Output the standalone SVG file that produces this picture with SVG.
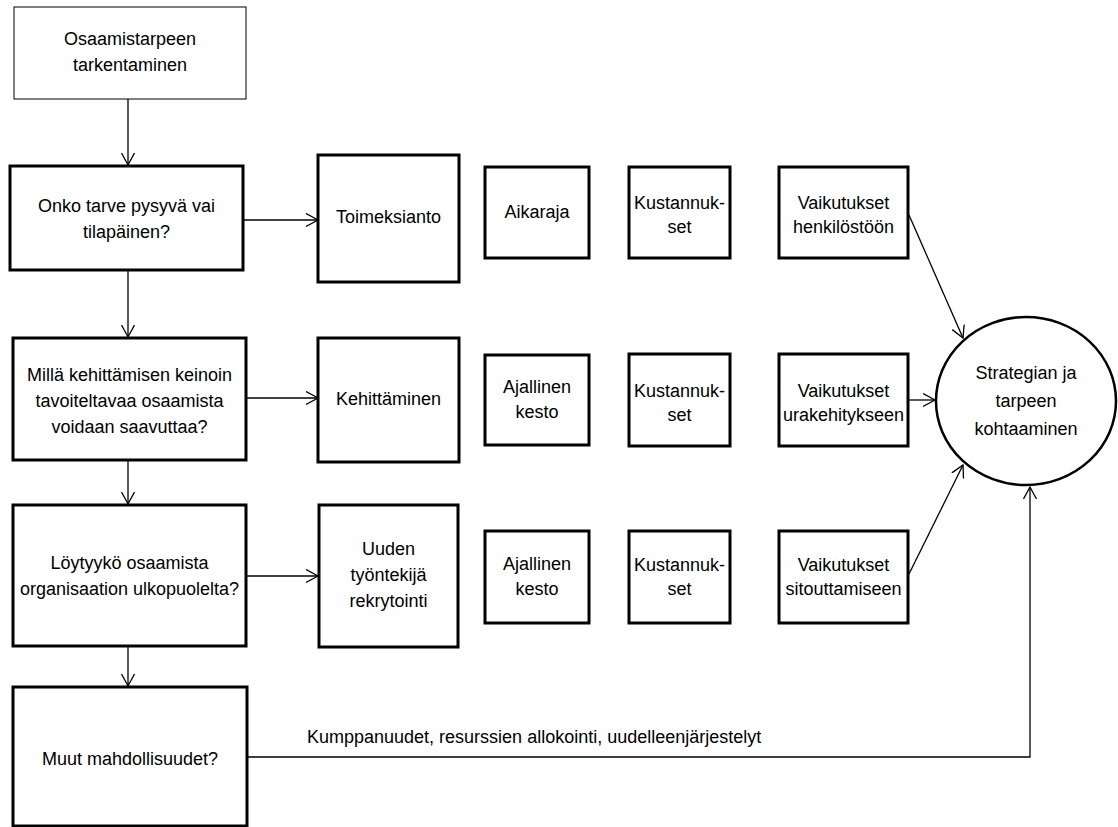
<svg xmlns="http://www.w3.org/2000/svg" width="1118" height="827" viewBox="0 0 1118 827">
  <style>
    .box { fill: #ffffff; stroke: #000000; stroke-width: 3; }
    .thin { fill: #ffffff; stroke: #000000; stroke-width: 1; }
    .oval { fill: #ffffff; stroke: #000000; stroke-width: 2.5; }
    .conn { fill: none; stroke: #000000; stroke-width: 1.3; }
    text { font-family: "Liberation Sans", Arial, sans-serif; font-size: 18px; fill: #000000; text-anchor: middle; }
    .label { text-anchor: start; }
  </style>
  <defs>
    <marker id="arrow" markerUnits="userSpaceOnUse" markerWidth="16" markerHeight="16" refX="12" refY="7" orient="auto">
      <path d="M0,0.5 L12,7 L0,13.5" fill="none" stroke="#000000" stroke-width="1.3"/>
    </marker>
  </defs>

  <!-- connectors -->
  <g id="connectors">
    <line class="conn" x1="128" y1="99" x2="128" y2="165" marker-end="url(#arrow)"/>
    <line class="conn" x1="128" y1="270" x2="128" y2="337" marker-end="url(#arrow)"/>
    <line class="conn" x1="128" y1="460" x2="128" y2="504" marker-end="url(#arrow)"/>
    <line class="conn" x1="128" y1="646" x2="128" y2="686" marker-end="url(#arrow)"/>
    <line class="conn" x1="243" y1="220" x2="318" y2="220" marker-end="url(#arrow)"/>
    <line class="conn" x1="246" y1="398" x2="318" y2="398" marker-end="url(#arrow)"/>
    <line class="conn" x1="246" y1="576" x2="318" y2="576" marker-end="url(#arrow)"/>
    <line class="conn" x1="909" y1="215" x2="963" y2="338" marker-end="url(#arrow)"/>
    <line class="conn" x1="909" y1="400" x2="935" y2="400" marker-end="url(#arrow)"/>
    <line class="conn" x1="909" y1="574" x2="963" y2="465" marker-end="url(#arrow)"/>
    <path class="conn" d="M247,757 H1030 V487" marker-end="url(#arrow)"/>
    <text class="label" x="307" y="743">Kumppanuudet, resurssien allokointi, uudelleenjärjestelyt</text>
  </g>

  <!-- left column: decision steps -->
  <g id="n-tarkentaminen">
    <rect class="thin" x="14" y="7" width="232" height="92"/>
    <text x="130" y="45">Osaamistarpeen</text>
    <text x="130" y="71">tarkentaminen</text>
  </g>
  <g id="n-pysyva">
    <rect class="box" x="10" y="166" width="233" height="104"/>
    <text x="126.5" y="212">Onko tarve pysyvä vai</text>
    <text x="126.5" y="238">tilapäinen?</text>
  </g>
  <g id="n-kehittaminen-keinot">
    <rect class="box" x="13" y="338" width="233" height="122"/>
    <text x="129.5" y="381">Millä kehittämisen keinoin</text>
    <text x="129.5" y="407">tavoiteltavaa osaamista</text>
    <text x="129.5" y="433">voidaan saavuttaa?</text>
  </g>
  <g id="n-ulkopuolelta">
    <rect class="box" x="13" y="505" width="233" height="141"/>
    <text x="129.5" y="569">Löytyykö osaamista</text>
    <text x="129.5" y="595">organisaation ulkopuolelta?</text>
  </g>
  <g id="n-muut">
    <rect class="box" x="13" y="687" width="234" height="139"/>
    <text x="130" y="765">Muut mahdollisuudet?</text>
  </g>

  <!-- solution column -->
  <g id="n-toimeksianto">
    <rect class="box" x="318" y="155" width="141" height="127"/>
    <text x="388.5" y="223">Toimeksianto</text>
  </g>
  <g id="n-kehittaminen">
    <rect class="box" x="318" y="338" width="141" height="124"/>
    <text x="388.5" y="405">Kehittäminen</text>
  </g>
  <g id="n-rekrytointi">
    <rect class="box" x="319" y="505" width="139" height="142"/>
    <text x="388.5" y="555">Uuden</text>
    <text x="388.5" y="581">työntekijä</text>
    <text x="388.5" y="607">rekrytointi</text>
  </g>

  <!-- time column -->
  <g id="n-aikaraja">
    <rect class="box" x="485" y="167" width="104" height="91"/>
    <text x="537" y="218">Aikaraja</text>
  </g>
  <g id="n-kesto-1">
    <rect class="box" x="485" y="355" width="104" height="90"/>
    <text x="537" y="393">Ajallinen</text>
    <text x="537" y="418">kesto</text>
  </g>
  <g id="n-kesto-2">
    <rect class="box" x="485" y="531" width="104" height="92"/>
    <text x="537" y="570">Ajallinen</text>
    <text x="537" y="595">kesto</text>
  </g>

  <!-- cost column -->
  <g id="n-kustannukset-1">
    <rect class="box" x="629" y="167" width="101" height="91"/>
    <text x="679.5" y="209">Kustannuk-</text>
    <text x="679.5" y="233">set</text>
  </g>
  <g id="n-kustannukset-2">
    <rect class="box" x="629" y="354" width="101" height="92"/>
    <text x="679.5" y="397">Kustannuk-</text>
    <text x="679.5" y="421">set</text>
  </g>
  <g id="n-kustannukset-3">
    <rect class="box" x="629" y="531" width="101" height="92"/>
    <text x="679.5" y="571">Kustannuk-</text>
    <text x="679.5" y="595">set</text>
  </g>

  <!-- impact column -->
  <g id="n-henkilosto">
    <rect class="box" x="779" y="167" width="129" height="91"/>
    <text x="843.5" y="209">Vaikutukset</text>
    <text x="843.5" y="233">henkilöstöön</text>
  </g>
  <g id="n-urakehitys">
    <rect class="box" x="779" y="354" width="129" height="92"/>
    <text x="843.5" y="397">Vaikutukset</text>
    <text x="843.5" y="421">urakehitykseen</text>
  </g>
  <g id="n-sitouttaminen">
    <rect class="box" x="779" y="531" width="129" height="92"/>
    <text x="843.5" y="571">Vaikutukset</text>
    <text x="843.5" y="595">sitouttamiseen</text>
  </g>

  <!-- outcome -->
  <g id="n-strategia">
    <ellipse class="oval" cx="1026" cy="401" rx="90" ry="84"/>
    <text x="1026" y="379">Strategian ja</text>
    <text x="1026" y="407">tarpeen</text>
    <text x="1026" y="435">kohtaaminen</text>
  </g>
</svg>
